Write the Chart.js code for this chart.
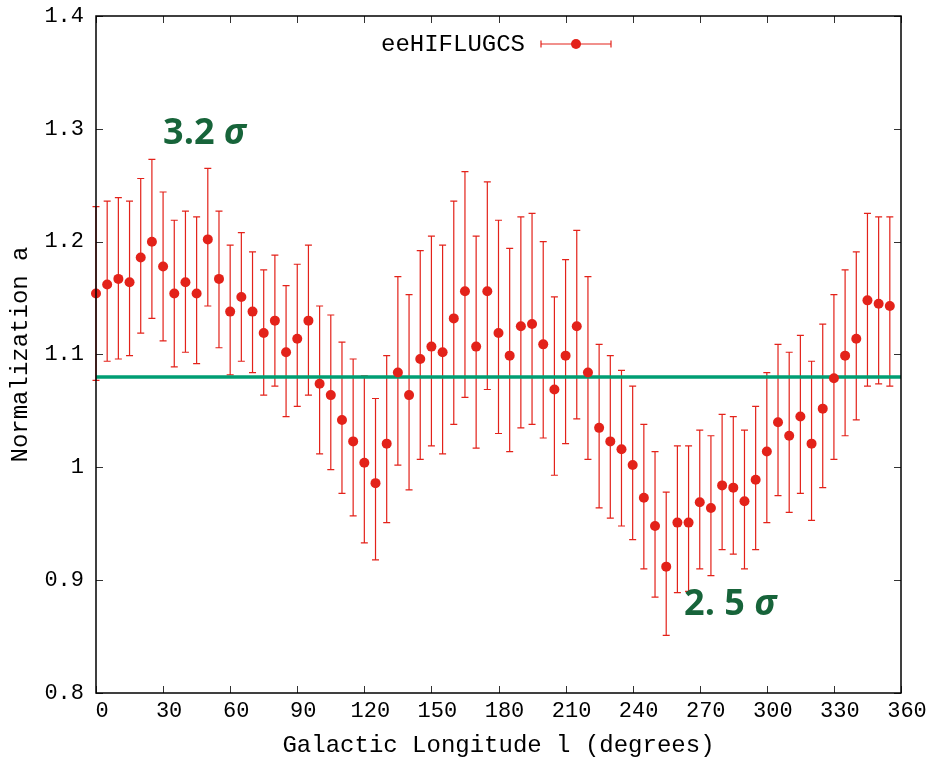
<!DOCTYPE html>
<html>
<head>
<meta charset="utf-8">
<script src="https://cdn.jsdelivr.net/npm/chart.js@4.4.1/dist/chart.umd.min.js"></script>
<style>
  html, body { margin: 0; padding: 0; background: #fff; }
  canvas { display: block; }
</style>
</head>
<body>
<canvas id="grafica" width="935" height="761"></canvas>
<script>
// Galactic longitude of each bin (degrees)
const longitudes = [0, 5, 10, 15, 20, 25, 30, 35, 40, 45, 50, 55, 60, 65, 70, 75, 80, 85,
  90, 95, 100, 105, 110, 115, 120, 125, 130, 135, 140, 145, 150, 155, 160, 165, 170, 175,
  180, 185, 190, 195, 200, 205, 210, 215, 220, 225, 230, 235, 240, 245, 250, 255, 260, 265,
  270, 275, 280, 285, 290, 295, 300, 305, 310, 315, 320, 325, 330, 335, 340, 345, 350, 355];

// Normalization a
const normalization = [1.154, 1.162, 1.167, 1.164, 1.186, 1.200, 1.178, 1.154, 1.164, 1.154,
  1.202, 1.167, 1.138, 1.151, 1.138, 1.119, 1.130, 1.102, 1.114, 1.130, 1.074, 1.064, 1.042,
  1.023, 1.004, 0.986, 1.021, 1.084, 1.064, 1.096, 1.107, 1.102, 1.132, 1.156, 1.107, 1.156,
  1.119, 1.099, 1.125, 1.127, 1.109, 1.069, 1.099, 1.125, 1.084, 1.035, 1.023, 1.016, 1.002,
  0.973, 0.948, 0.912, 0.951, 0.951, 0.969, 0.964, 0.984, 0.982, 0.970, 0.989, 1.014, 1.040,
  1.028, 1.045, 1.021, 1.052, 1.079, 1.099, 1.114, 1.148, 1.145, 1.143];

// upper and lower ends of the error bars
const errUpper = [1.231, 1.236, 1.239, 1.236, 1.256, 1.273, 1.244, 1.219, 1.227, 1.222,
  1.265, 1.227, 1.197, 1.208, 1.191, 1.175, 1.188, 1.161, 1.180, 1.197, 1.143, 1.135, 1.111,
  1.096, 1.081, 1.061, 1.099, 1.169, 1.153, 1.192, 1.205, 1.197, 1.236, 1.262, 1.205, 1.253,
  1.219, 1.194, 1.222, 1.225, 1.200, 1.151, 1.184, 1.210, 1.169, 1.109, 1.099, 1.086, 1.072,
  1.038, 1.014, 0.978, 1.019, 1.019, 1.033, 1.028, 1.047, 1.045, 1.033, 1.054, 1.084, 1.109,
  1.102, 1.117, 1.094, 1.127, 1.153, 1.175, 1.191, 1.225, 1.222, 1.222];

const errLower = [1.077, 1.094, 1.096, 1.099, 1.119, 1.132, 1.112, 1.089, 1.102, 1.092,
  1.143, 1.106, 1.082, 1.094, 1.084, 1.064, 1.072, 1.045, 1.054, 1.064, 1.012, 0.998, 0.977,
  0.957, 0.933, 0.918, 0.951, 1.002, 0.980, 1.007, 1.019, 1.012, 1.038, 1.062, 1.017, 1.069,
  1.030, 1.014, 1.035, 1.038, 1.026, 0.993, 1.021, 1.043, 1.007, 0.964, 0.955, 0.948, 0.936,
  0.910, 0.885, 0.851, 0.889, 0.890, 0.910, 0.904, 0.927, 0.923, 0.910, 0.927, 0.951, 0.975,
  0.960, 0.977, 0.953, 0.982, 1.007, 1.028, 1.042, 1.072, 1.074, 1.072];

const fitLevel = 1.08;
const seriesLabel = "eeHIFLUGCS";

const xTickValues = [0, 30, 60, 90, 120, 150, 180, 210, 240, 270, 300, 330, 360];
const yTickValues = [0.8, 0.9, 1, 1.1, 1.2, 1.3, 1.4];
const yTickLabels = ["0.8", "0.9", "1", "1.1", "1.2", "1.3", "1.4"];

// texto de significancia: [parte recta, parte griega, l, a]
const notas = [
  ["3.2 ", "σ", 30, 1.287],
  ["2. 5 ", "σ", 263, 0.869]
];

const rojo = "#e3221a";
const verde = "#009e73";
const verdeNota = "#17643a";
const monoFont = "'Liberation Mono', 'DejaVu Sans Mono', monospace";

// Barras de error con los ejes de Chart.js
const barrasError = {
  id: "barrasError",
  beforeDatasetsDraw(chart) {
    const { ctx, scales: { x, y } } = chart;
    ctx.save();
    ctx.strokeStyle = rojo;
    ctx.lineWidth = 1.2;
    longitudes.forEach((l, i) => {
      const px = x.getPixelForValue(l);
      const top = y.getPixelForValue(errUpper[i]);
      const bot = y.getPixelForValue(errLower[i]);
      ctx.beginPath();
      ctx.moveTo(px, top); ctx.lineTo(px, bot);
      ctx.moveTo(px - 3.5, top); ctx.lineTo(px + 3.5, top);
      ctx.moveTo(px - 3.5, bot); ctx.lineTo(px + 3.5, bot);
      ctx.stroke();
    });
    ctx.restore();
  }
};

// Marco, marcas hacia dentro, leyenda y notas
const decoracion = {
  id: "decoracion",
  afterDraw(chart) {
    const { ctx, chartArea: a, scales: { x, y } } = chart;
    ctx.save();

    // marcas
    ctx.strokeStyle = "#333";
    ctx.lineWidth = 1;
    ctx.beginPath();
    xTickValues.forEach((v) => {
      const px = Math.round(x.getPixelForValue(v)) + 0.5;
      ctx.moveTo(px, a.bottom); ctx.lineTo(px, a.bottom - 7);
      ctx.moveTo(px, a.top); ctx.lineTo(px, a.top + 7);
    });
    yTickValues.forEach((v) => {
      const py = Math.round(y.getPixelForValue(v)) + 0.5;
      ctx.moveTo(a.left, py); ctx.lineTo(a.left + 7, py);
      ctx.moveTo(a.right, py); ctx.lineTo(a.right - 7, py);
    });
    ctx.stroke();

    // marco
    ctx.strokeStyle = "#000";
    ctx.lineWidth = 1.5;
    ctx.strokeRect(a.left, a.top, a.right - a.left, a.bottom - a.top);

    // leyenda
    const ly = a.top + 28;
    ctx.fillStyle = "#000";
    ctx.font = "24px " + monoFont;
    ctx.textAlign = "right";
    ctx.textBaseline = "middle";
    ctx.fillText(seriesLabel, a.left + 429, ly + 1);
    const x0 = a.left + 445, x1 = a.left + 515, xm = (x0 + x1) / 2;
    ctx.strokeStyle = rojo;
    ctx.lineWidth = 1.2;
    ctx.beginPath();
    ctx.moveTo(x0, ly); ctx.lineTo(x1, ly);
    ctx.moveTo(x0, ly - 3.5); ctx.lineTo(x0, ly + 3.5);
    ctx.moveTo(x1, ly - 3.5); ctx.lineTo(x1, ly + 3.5);
    ctx.stroke();
    ctx.fillStyle = rojo;
    ctx.beginPath();
    ctx.arc(xm, ly, 5, 0, Math.PI * 2);
    ctx.fill();

    // notas de significancia
    ctx.fillStyle = verdeNota;
    ctx.textAlign = "left";
    ctx.textBaseline = "alphabetic";
    notas.forEach(([recto, griego, l, val]) => {
      const px = x.getPixelForValue(l);
      const py = y.getPixelForValue(val);
      ctx.font = "bold 36px 'Open Sans', 'Noto Sans', sans-serif";
      ctx.fillText(recto, px, py);
      const w = ctx.measureText(recto).width;
      ctx.font = "italic bold 36px 'Open Sans', 'Noto Sans', sans-serif";
      ctx.fillText(griego, px + w, py);
    });

    ctx.restore();
  }
};

const ctx = document.getElementById("grafica").getContext("2d");
new Chart(ctx, {
  type: "scatter",
  data: {
    datasets: [
      {
        label: seriesLabel,
        data: longitudes.map((l, i) => ({ x: l, y: normalization[i] })),
        backgroundColor: rojo,
        borderWidth: 0,
        pointRadius: 5,
        pointHoverRadius: 5,
        clip: false
      },
      {
        type: "line",
        label: "ajuste",
        data: [{ x: 0, y: fitLevel }, { x: 360, y: fitLevel }],
        borderColor: verde,
        borderWidth: 3.5,
        pointRadius: 0,
        fill: false
      }
    ]
  },
  options: {
    responsive: false,
    animation: false,
    layout: { padding: { left: 0, right: 34, top: 16, bottom: 0 } },
    plugins: {
      legend: { display: false },
      tooltip: { enabled: false }
    },
    scales: {
      x: {
        type: "linear",
        min: 0,
        max: 360,
        afterBuildTicks: (s) => { s.ticks = xTickValues.map((v) => ({ value: v })); },
        afterFit: (s) => { s.height = 68; s.paddingLeft = 0; s.paddingRight = 0; },
        grid: { display: false, drawTicks: false },
        border: { display: false },
        ticks: {
          color: "#000",
          font: { family: monoFont, size: 22 },
          padding: 5,
          labelOffset: 6,
          maxRotation: 0,
          autoSkip: false,
          callback: (v) => String(v)
        },
        title: {
          display: true,
          text: "Galactic Longitude l (degrees)",
          color: "#000",
          font: { family: monoFont, size: 24 },
          padding: { top: 0, bottom: 1 }
        }
      },
      y: {
        min: 0.8,
        max: 1.4,
        afterBuildTicks: (s) => { s.ticks = yTickValues.map((v) => ({ value: v })); },
        afterFit: (s) => { s.width = 96; s.paddingTop = 0; s.paddingBottom = 0; },
        grid: { display: false, drawTicks: false },
        border: { display: false },
        ticks: {
          color: "#000",
          font: { family: monoFont, size: 22 },
          padding: 12,
          autoSkip: false,
          callback: (v, i) => yTickLabels[i]
        },
        title: {
          display: true,
          text: "Normalization a",
          color: "#000",
          font: { family: monoFont, size: 24 },
          padding: { top: 6, bottom: 0 }
        }
      }
    }
  },
  plugins: [barrasError, decoracion]
});
</script>
</body>
</html>
